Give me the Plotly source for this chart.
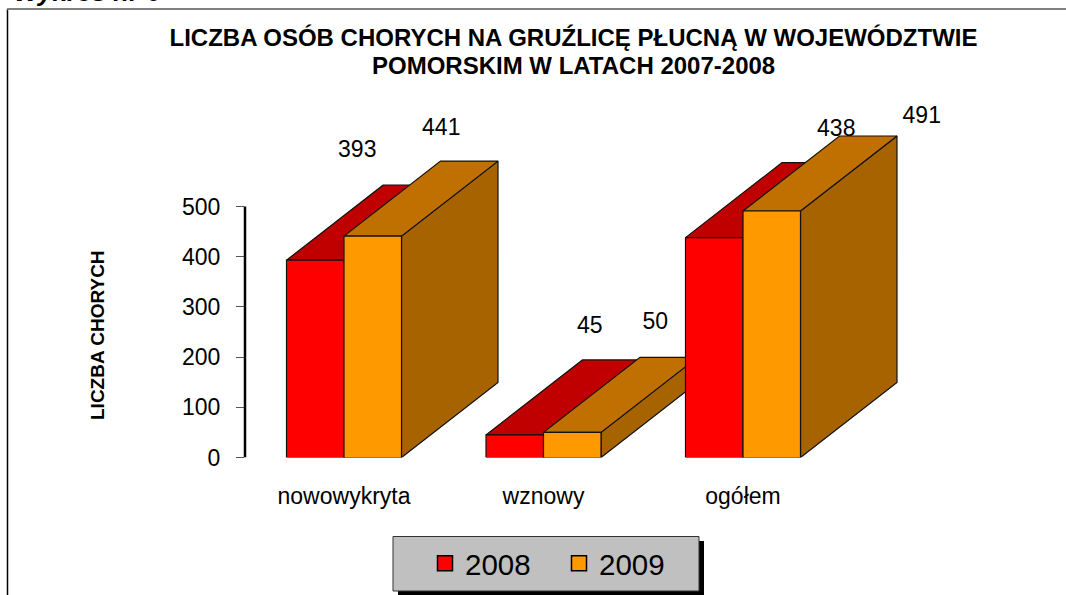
import plotly.graph_objects as go

# ---- data ----
categories = ["nowowykryta", "wznowy", "ogółem"]
series_names = ["2008", "2009"]
values_2008 = [393, 45, 438]
values_2009 = [441, 50, 491]
y_ticks = [0, 100, 200, 300, 400, 500]
title_line_1 = "LICZBA OSÓB CHORYCH NA GRUŹLICĘ PŁUCNĄ W WOJEWÓDZTWIE"
title_line_2 = "POMORSKIM W LATACH 2007-2008"
y_title = "LICZBA CHORYCH"
top_text = "Wykres nr 6"

# ---- layout / style (pixels) ----
W, H = 1066, 595
AX_LEFT, AX_RIGHT = 245, 1000
Y0_PX, Y500_PX = 457.5, 206.5
CAT0_PX, CAT_STEP_PX = 344.0, 199.5
BAR_PX = 57.5
DEPTH_X_PX, DEPTH_Y_PX = 96.5, 75.0
FONT = "Liberation Sans, Arial, sans-serif"
INK = "#000000"
front = ["#ff0000", "#ff9900"]
top = ["#c00000", "#c07000"]
side = ["#a60000", "#a66300"]
label_dx_px = [[42, 75, 122], [68.5, 83, 150]]
label_dy_px = [[-109, -108, -107], [-107, -109, -94]]

ux = CAT_STEP_PX
uy = (Y0_PX - Y500_PX) / 500.0
bar_w = BAR_PX / ux
dx = DEPTH_X_PX / ux
dy = DEPTH_Y_PX / uy
all_values = [values_2008, values_2009]

fig = go.Figure()


def face(xs, ys, color):
    fig.add_trace(go.Scatter(
        x=xs + xs[:1], y=ys + ys[:1], mode="lines", fill="toself", fillcolor=color,
        line=dict(color="#111111", width=1.2), hoverinfo="skip", showlegend=False,
        cliponaxis=False))


# value labels sit behind the bars
for s, vals in enumerate(all_values):
    centers = [i + (s - 0.5) * bar_w for i in range(len(categories))]
    fig.add_trace(go.Scatter(
        x=[c + d / ux for c, d in zip(centers, label_dx_px[s])],
        y=[v - d / uy for v, d in zip(vals, label_dy_px[s])],
        mode="text", text=[str(v) for v in vals], textposition="middle center",
        textfont=dict(family=FONT, size=23, color=INK),
        hoverinfo="skip", showlegend=False, cliponaxis=False))

for i in range(len(categories)):
    for s, vals in enumerate(all_values):
        x0 = i + (s - 1) * bar_w
        x1 = x0 + bar_w
        v = vals[i]
        face([x1, x1 + dx, x1 + dx, x1], [0, dy, v + dy, v], side[s])
        face([x0, x1, x1 + dx, x0 + dx], [v, v, v + dy, v + dy], top[s])
        face([x0, x1, x1, x0], [0, 0, v, v], front[s])

# legend entries
for s, name in enumerate(series_names):
    fig.add_trace(go.Scatter(
        x=[None], y=[None], mode="markers", name=name,
        marker=dict(symbol="square", size=15, color=front[s],
                    line=dict(color=INK, width=1.5))))

fig.update_layout(
    width=W, height=H, autosize=False,
    margin=dict(l=0, r=0, t=0, b=0, autoexpand=False),
    paper_bgcolor="white", plot_bgcolor="rgba(0,0,0,0)",
    font=dict(family=FONT, color=INK),
    title=dict(text=title_line_1, x=573.5 / W, xanchor="center", y=1 - 38 / H, yanchor="middle",
               font=dict(family=FONT, size=24, color=INK, weight="bold")),
    xaxis=dict(
        domain=[AX_LEFT / W, AX_RIGHT / W],
        range=[(AX_LEFT - CAT0_PX) / ux, (AX_RIGHT - CAT0_PX) / ux],
        tickmode="array", tickvals=list(range(len(categories))), ticktext=categories,
        ticks="outside", ticklen=18, tickcolor="rgba(0,0,0,0)",
        tickfont=dict(family=FONT, size=23, color=INK),
        showline=False, showgrid=False, zeroline=False, fixedrange=True),
    yaxis=dict(
        domain=[1 - Y0_PX / H, 1], range=[0, Y0_PX / uy],
        tickmode="array", tickvals=y_ticks,
        ticks="outside", ticklen=8, tickwidth=1, tickcolor="#555555",
        ticklabelstandoff=11,
        tickfont=dict(family=FONT, size=23, color=INK),
        showline=False, showgrid=False, zeroline=False, fixedrange=True),
    legend=dict(orientation="h", x=425 / W, xanchor="left", y=1 - 563.5 / H, yanchor="middle",
                bgcolor="rgba(0,0,0,0)", borderwidth=0, entrywidth=89, entrywidthmode="pixels",
                font=dict(family=FONT, size=29.5, color=INK), itemclick=False, itemdoubleclick=False),
    shapes=[
        dict(type="rect", xref="paper", yref="paper", x0=398 / W, x1=704 / W, y0=1 - 595 / H, y1=1 - 541 / H,
             fillcolor="#000000", line=dict(width=0), layer="below"),
        dict(type="rect", xref="paper", yref="paper", x0=393 / W, x1=699 / W, y0=1 - 591 / H, y1=1 - 536.5 / H,
             fillcolor="#c0c0c0", line=dict(color="#333333", width=1), layer="below"),
        dict(type="line", xref="paper", yref="paper", x0=7.5 / W, x1=7.5 / W, y0=0, y1=1 - 9 / H,
             line=dict(color="#000000", width=1.5), layer="below"),
        dict(type="line", xref="paper", yref="paper", x0=7 / W, x1=1, y0=1 - 9 / H, y1=1 - 9 / H,
             line=dict(color="#808080", width=2), layer="below"),
        dict(type="line", xref="paper", yref="y", x0=AX_LEFT / W, x1=AX_LEFT / W, y0=y_ticks[0], y1=y_ticks[-1],
             line=dict(color=INK, width=2.5), layer="above"),
    ],
    annotations=[
        dict(text=title_line_2, xref="paper", yref="paper", x=573.5 / W, y=1 - 65 / H,
             xanchor="center", yanchor="middle",
             showarrow=False, font=dict(family=FONT, size=24, color=INK, weight="bold")),
        dict(text=y_title, xref="paper", yref="paper", x=97 / W, y=1 - 335 / H, textangle=-90,
             xanchor="center", yanchor="middle",
             showarrow=False, font=dict(family=FONT, size=19, color=INK, weight="bold")),
        dict(text=top_text, xref="paper", yref="paper", x=12 / W, xanchor="left", y=1 - 9 / H, yanchor="bottom",
             showarrow=False, font=dict(family=FONT, size=26, color=INK, weight="bold", style="italic")),
    ],
)

fig.write_html("out.html", post_script="document.body.style.margin='0';",
               config={"displayModeBar": False})
